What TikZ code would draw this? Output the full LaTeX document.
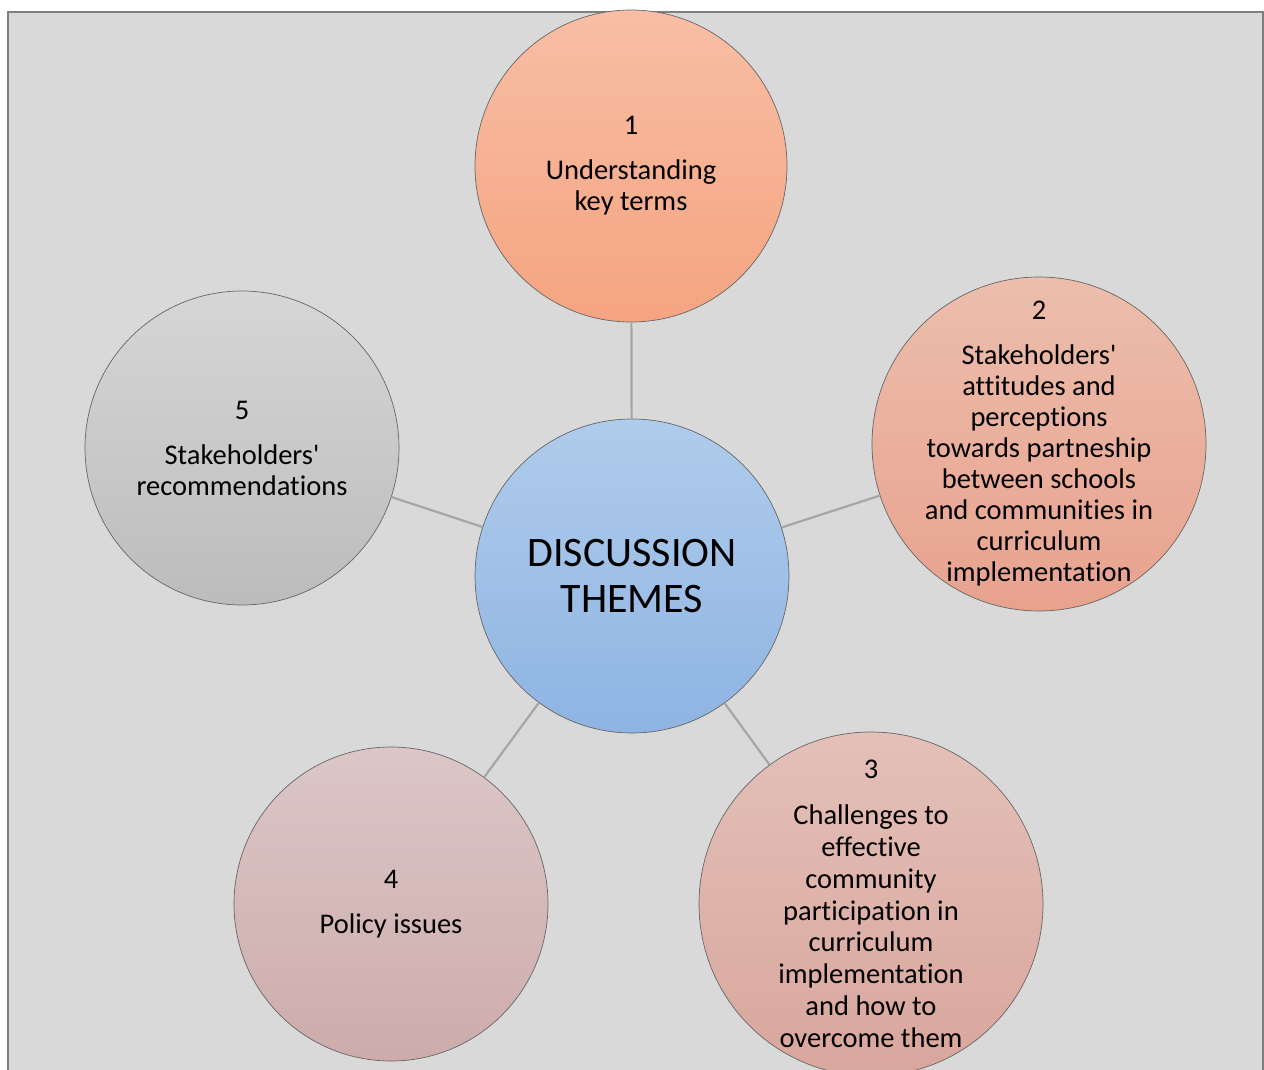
\documentclass[tikz,border=0pt]{standalone}
\usepackage{fontspec}
\setmainfont{Carlito}[RawFeature=-liga]
\definecolor{paneGray}{HTML}{D9D9D9}
\definecolor{frameGray}{HTML}{7F7F7F}
\newcommand{\ThemeNode}[4][]{\node[theme, #1] (#2) at #3 {#4};}

\begin{document}
\begin{tikzpicture}[x=1pt, y=-1pt,
  theme/.style={circle, draw=black!60, line width=0.7pt, inner sep=-40pt, minimum size=314pt,
    align=center, font=\fontsize{28.5}{31}\selectfont},
  link/.style={draw=black!35, line width=2.2pt}]
\useasboundingbox (0,0) rectangle (1264,1070);
\draw[fill=paneGray, draw=frameGray, line width=2.5pt] (8,12) rectangle (1263,1090);

\ThemeNode[top color={rgb,255:red,176;green,204;blue,235}, bottom color={rgb,255:red,142;green,180;blue,227},
  font=\fontsize{42}{46}\selectfont]{centre}{(632,576)}{DISCUSSION\\THEMES}

\ThemeNode[top color={rgb,255:red,248;green,190;blue,165}, bottom color={rgb,255:red,245;green,164;blue,128},
  minimum size=312pt]{t1}{(631,166)}{1\\[14pt]Understanding\\key terms}
\ThemeNode[top color={rgb,255:red,236;green,190;blue,172}, bottom color={rgb,255:red,232;green,162;blue,142},
  minimum size=334pt]{t2}{(1039,444)}{2\\[14pt]Stakeholders\textquotesingle\\attitudes and\\perceptions\\towards partneship\\between schools\\and communities in\\curriculum\\implementation}
\ThemeNode[top color={rgb,255:red,228;green,192;blue,184}, bottom color={rgb,255:red,216;green,166;blue,156},
  minimum size=344pt, font=\fontsize{28.5}{31.8}\selectfont]{t3}{(871,904)}{3\\[14pt]Challenges to\\effective\\community\\participation in\\curriculum\\implementation\\and how to\\overcome them}
\ThemeNode[top color={rgb,255:red,220;green,198;blue,198}, bottom color={rgb,255:red,205;green,172;blue,171}]{t4}{(391,904)}{4\\[14pt]Policy issues}
\ThemeNode[top color={rgb,255:red,214;green,214;blue,214}, bottom color={rgb,255:red,188;green,188;blue,188}]{t5}{(242,448)}{5\\[14pt]Stakeholders\textquotesingle\\recommendations}

\foreach \t in {t1,t2,t3,t4,t5}
  \draw[link] (centre) -- (\t);

\end{tikzpicture}
\end{document}
